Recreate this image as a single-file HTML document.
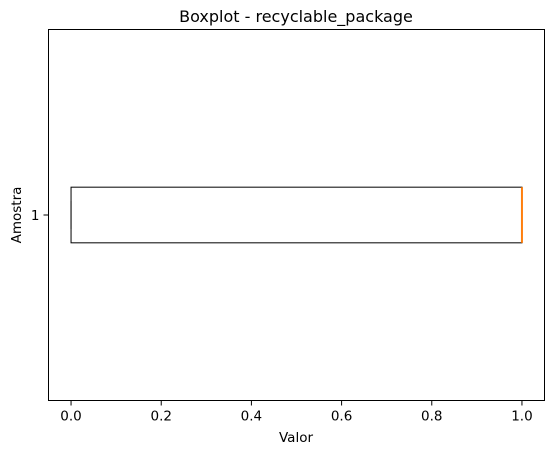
<!DOCTYPE html>
<html><head><meta charset="utf-8"><style>
body{margin:0;background:#fff;}
svg{display:block;font-family:"DejaVu Sans","Liberation Sans",sans-serif;}
</style></head><body>
<svg id="chart" width="554" height="453">
<text x="296" y="22" font-size="16" text-anchor="middle">Boxplot - recyclable_package</text>
<g id="ticks"></g>
<g id="marks"></g>
<rect x="48.5" y="29.5" width="496" height="371" fill="none" stroke="#000" stroke-width="1"/>
<text x="296" y="442" font-size="13.5" text-anchor="middle">Valor</text>
<text x="0" y="0" font-size="13.5" text-anchor="middle" transform="translate(21,215) rotate(-90)">Amostra</text>
</svg>
<script>
const categories=["1"];
const minVals=[0];
const q1Vals=[0];
const medianVals=[1];
const q3Vals=[1];
const maxVals=[1];
const xTicks=[0,0.2,0.4,0.6,0.8,1.0];
const xTickLabels=["0.0","0.2","0.4","0.6","0.8","1.0"];
const NS="http://www.w3.org/2000/svg";
const L=48.5,R=544.5,T=29.5,B=400.5;
const xMin=-0.05,xMax=1.05,yMin=0.5,yMax=1.5;
function xs(v){return L+(v-xMin)/(xMax-xMin)*(R-L);}
function ys(v){return B-(v-yMin)/(yMax-yMin)*(B-T);}
function mk(tag,attrs,parent){const e=document.createElementNS(NS,tag);for(const k in attrs)e.setAttribute(k,attrs[k]);parent.appendChild(e);return e;}
const tg=document.getElementById('ticks'),mg=document.getElementById('marks');
xTicks.forEach((t,i)=>{
 const x=xs(t);
 const l=mk('line',{x1:x,x2:x,y1:B,y2:B+5,stroke:'#000'},tg);
 
 
 const tx=mk('text',{x:x,y:B+20,'font-size':13.5,'text-anchor':'middle'},tg);
 tx.textContent=xTickLabels[i];
 
 
});
categories.forEach((c,i)=>{
 const p=i+1,y=ys(p);
 const l=mk('line',{x1:L-5,x2:L,y1:y,y2:y,stroke:'#000'},tg);
 
 
 const tx=mk('text',{x:L-9,y:y+5,'font-size':13.5,'text-anchor':'end'},tg);
 tx.textContent=c;
 
 
 const y0=ys(p+0.075),y1=ys(p-0.075),yc0=ys(p+0.0375),yc1=ys(p-0.0375);
 const w1=mk('line',{x1:xs(minVals[i]),x2:xs(q1Vals[i]),y1:y,y2:y,stroke:'#000'},mg);
 
 
 const w2=mk('line',{x1:xs(q3Vals[i]),x2:xs(maxVals[i]),y1:y,y2:y,stroke:'#000'},mg);
 
 
 const c1=mk('line',{x1:xs(minVals[i]),x2:xs(minVals[i]),y1:yc0,y2:yc1,stroke:'#000'},mg);
 
 
 const c2=mk('line',{x1:xs(maxVals[i]),x2:xs(maxVals[i]),y1:yc0,y2:yc1,stroke:'#000'},mg);
 
 
 const b=mk('rect',{x:xs(q1Vals[i]),y:y0,width:xs(q3Vals[i])-xs(q1Vals[i]),height:y1-y0,fill:'none',stroke:'#000'},mg);
 
 
 const m=mk('line',{x1:xs(medianVals[i]),x2:xs(medianVals[i]),y1:y0,y2:y1,stroke:'#ff7f0e','stroke-width':2},mg);
 
 
});
</script>
</body></html>
